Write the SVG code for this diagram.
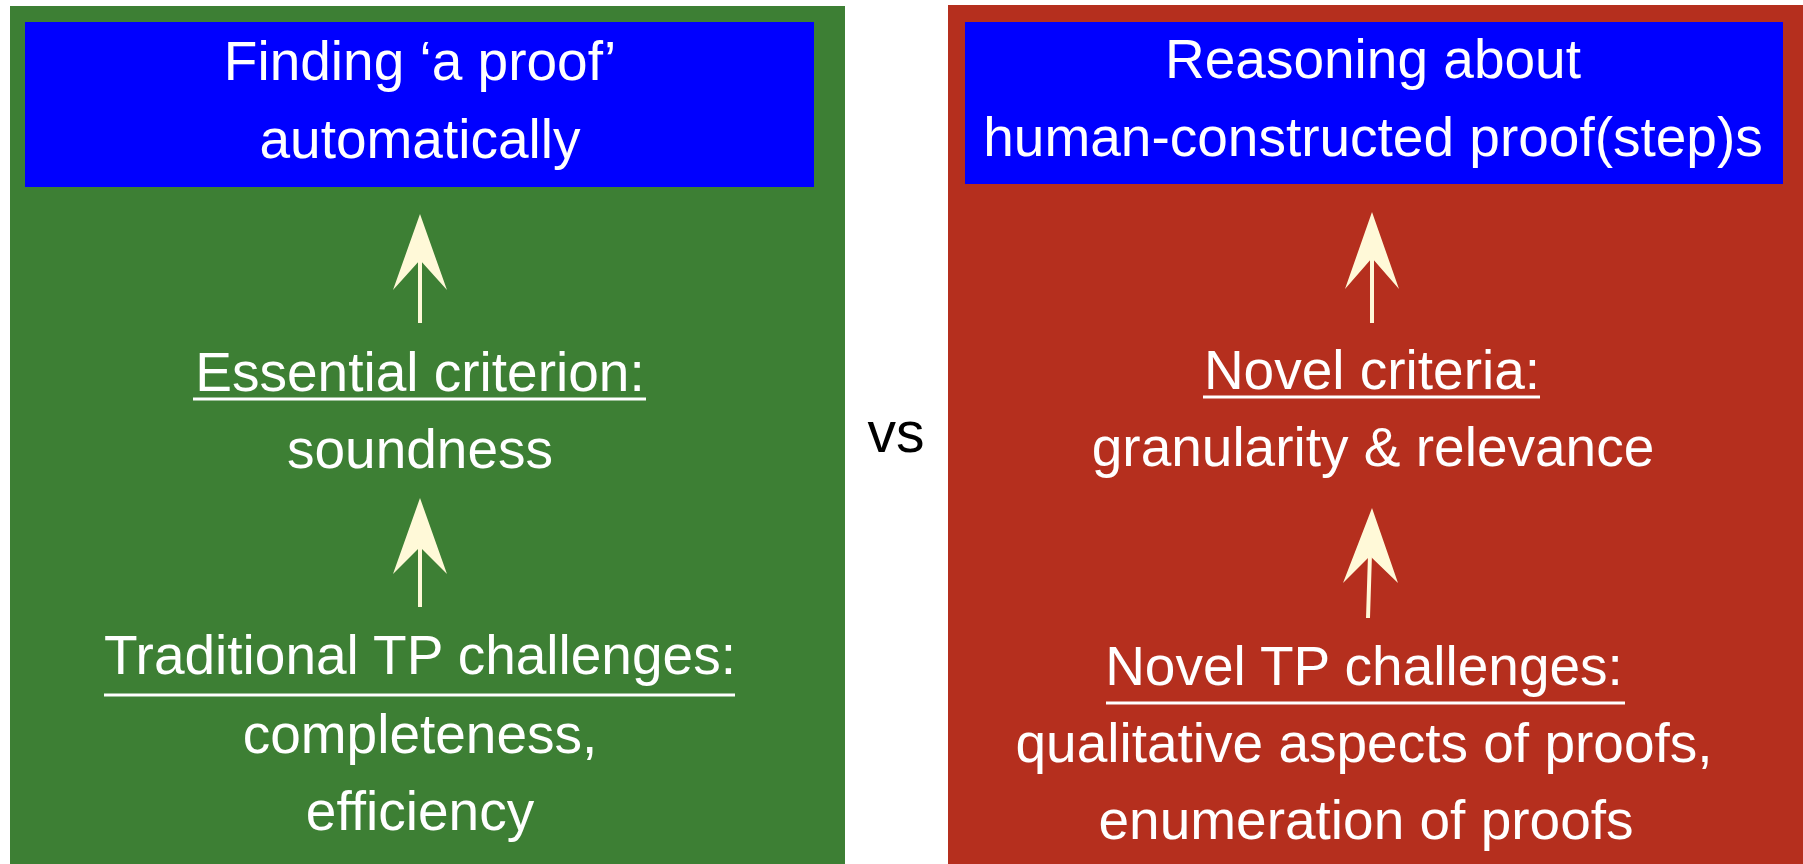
<svg xmlns="http://www.w3.org/2000/svg" width="1803" height="864" viewBox="0 0 1803 864">
<style>
.t{font-family:"Liberation Sans",Arial,sans-serif;font-size:55px;fill:#ffffff;text-anchor:middle}
.ul{stroke:#ffffff;stroke-width:3}
.shaft{stroke:#FFF9D8;stroke-width:4;fill:none}
.head{fill:#FFF9D8}
</style>
<rect width="1803" height="864" fill="#ffffff"/>
<g id="left-panel">
<rect x="10" y="6" width="835" height="858" fill="#3D7F34"/>
</g>
<g id="right-panel">
<rect x="948" y="5" width="855" height="859" fill="#B52F1E"/>
</g>
<g id="left-goal">
<rect x="25" y="22" width="789" height="165" fill="#0000FF"/>
<text class="t" x="420" y="80">Finding ‘a proof’</text>
<text class="t" x="420" y="158">automatically</text>
</g>
<g id="left-criterion">
<text class="t" x="420" y="391">Essential criterion:</text>
<line class="ul" x1="193" y1="399" x2="646" y2="399"/>
<text class="t" x="420" y="468">soundness</text>
</g>
<g id="left-challenges">
<text class="t" x="420" y="674">Traditional TP challenges:</text>
<line class="ul" x1="104" y1="695" x2="735" y2="695"/>
<text class="t" x="420" y="753">completeness,</text>
<text class="t" x="420" y="830">efficiency</text>
</g>
<g id="vs">
<text x="896" y="452" style="font-family:'Liberation Sans',Arial,sans-serif;font-size:57px;fill:#000000;text-anchor:middle">vs</text>
</g>
<g id="right-goal">
<rect x="965" y="22" width="818" height="162" fill="#0000FF"/>
<text class="t" x="1373" y="78">Reasoning about</text>
<text class="t" x="1373" y="156">human-constructed proof(step)s</text>
</g>
<g id="right-criterion">
<text class="t" x="1372" y="389">Novel criteria:</text>
<line class="ul" x1="1203" y1="397" x2="1540" y2="397"/>
<text class="t" x="1373" y="466">granularity &amp; relevance</text>
</g>
<g id="right-challenges">
<text class="t" x="1364" y="685">Novel TP challenges:</text>
<line class="ul" x1="1106" y1="703" x2="1625" y2="703"/>
<text class="t" x="1364" y="762">qualitative aspects of proofs,</text>
<text class="t" x="1366" y="839">enumeration of proofs</text>
</g>
<g id="connectors">
<line class="shaft" x1="420" y1="258" x2="420" y2="323"/>
<polygon class="head" points="420,214 447,290 420,260 393,290"/>
<line class="shaft" x1="420" y1="545" x2="420" y2="607"/>
<polygon class="head" points="420,498 447,574 420,547 393,574"/>
<line class="shaft" x1="1372" y1="256" x2="1372" y2="323"/>
<polygon class="head" points="1372,212 1399,289 1372,258 1345,289"/>
<line class="shaft" x1="1370" y1="554" x2="1368" y2="618"/>
<polygon class="head" points="1372,508 1398,583 1370,556 1343,583"/>
</g>
</svg>
